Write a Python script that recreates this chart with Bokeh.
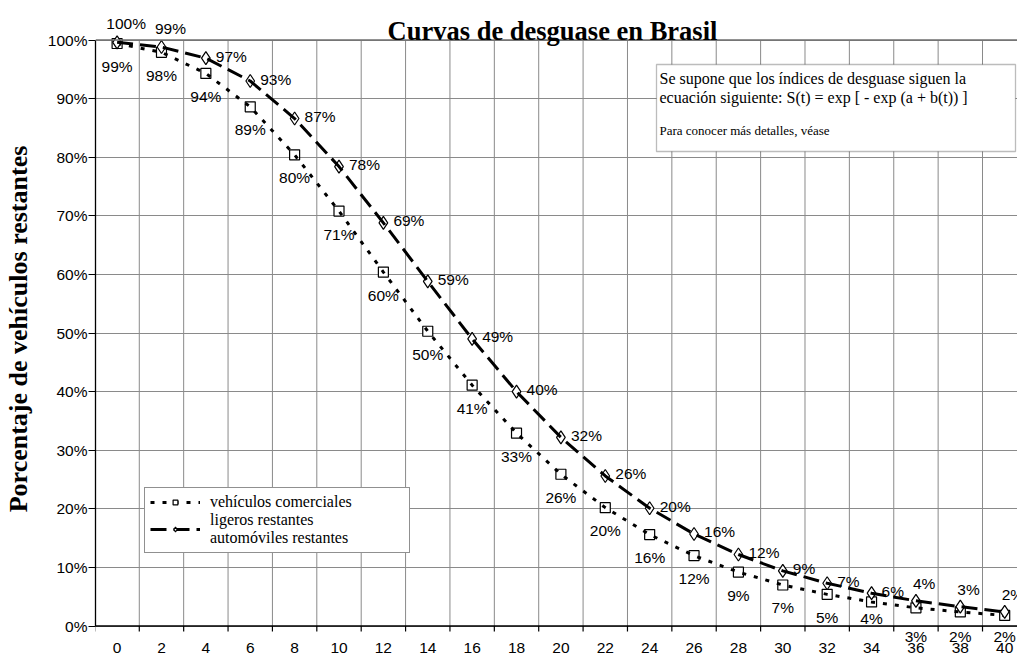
from bokeh.plotting import figure
from bokeh.models import (Range1d, FixedTicker, LabelSet, Label, ColumnDataSource,
                          Legend, LegendItem, BoxAnnotation, PrintfTickFormatter, Span)
from bokeh.core.properties import value
from bokeh.embed import file_html
from bokeh.resources import INLINE

# ---------------- data ----------------
years = list(range(0, 41, 2))
comerciales = [99.4, 97.9, 94.3, 88.6, 80.4, 70.8, 60.4, 50.3, 41.1, 32.9, 25.9,
               20.2, 15.6, 12.0, 9.2, 7.0, 5.4, 4.1, 3.1, 2.4, 1.8]
automoviles = [99.6, 98.8, 96.9, 93.0, 86.6, 78.4, 68.8, 58.8, 49.0, 40.0, 32.2,
               25.6, 20.1, 15.7, 12.2, 9.4, 7.3, 5.6, 4.3, 3.3, 2.4]
y_ticks = list(range(0, 101, 10))
x_tick_labels = [str(y) for y in years]
title_text = "Curvas de desguase en Brasil"
y_label = "Porcentaje de vehículos restantes"
legend_labels = ["vehículos comerciales", "ligeros restantes\nautomóviles restantes"]
note_lines = ["Se supone que los índices de desguase siguen la",
              "ecuación siguiente: S(t) = exp [ - exp (a + b(t)) ]"]
note_small = "Para conocer más detalles, véase"

# ---------------- geometry (pixel scale of the plot area) ----------------
W, H = 1017, 657
PX_X = 22.19   # px per year
PX_Y = 5.86    # px per percent
X0_PX, Y0_PX = 116.6, 625.5   # where (0, 0%) sits
LEFT = 95
x_start = (LEFT - X0_PX) / PX_X
x_end = (W - X0_PX) / PX_X
y_end = Y0_PX / PX_Y
y_start = -(H - Y0_PX) / PX_Y

p = figure(width=W, height=H, output_backend="svg", toolbar_location=None,
           x_range=Range1d(x_start, x_end), y_range=Range1d(y_start, y_end),
           x_axis_location=None,
           min_border_left=LEFT, min_border_right=0, min_border_top=0, min_border_bottom=0)
p.outline_line_color = None
p.background_fill_color = "white"
p.border_fill_color = "white"

grid_color = "#8a8a8a"
odd = [y + 1 for y in years if y + 1 < x_end]

# vertical grid lines (between categories), limited to 0..100 %
p.segment(x0=odd, y0=[0] * len(odd), x1=odd, y1=[100] * len(odd),
          line_color=grid_color, line_width=1)
p.xgrid.visible = False
p.ygrid.ticker = FixedTicker(ticks=y_ticks)
p.ygrid.grid_line_color = grid_color
p.ygrid.grid_line_width = 1
p.add_layout(Span(location=100, dimension="width", line_color="#6e6e6e", line_width=1.6))

# x axis drawn by hand (line, ticks between categories, labels)
p.add_layout(Span(location=0, dimension="width", line_color="black", line_width=1.3))
tick_x = [-1] + odd
p.segment(x0=tick_x, y0=[0] * len(tick_x), x1=tick_x, y1=[-5.5 / PX_Y] * len(tick_x),
          line_color="black", line_width=1.2)
p.add_layout(LabelSet(x="x", y="y", text="t",
                      source=ColumnDataSource(dict(x=years, y=[-21.5 / PX_Y] * len(years),
                                                   t=x_tick_labels)),
                      text_align="center", text_baseline="middle",
                      text_font=value("Liberation Sans"), text_font_size="15.5px",
                      text_color="black"))

# y axis
yax = p.yaxis[0]
yax.bounds = (0, 100)
yax.ticker = FixedTicker(ticks=y_ticks)
yax.formatter = PrintfTickFormatter(format="%d%%")
yax.axis_line_color = "black"
yax.axis_line_width = 1.3
yax.major_label_text_font = "Liberation Sans"
yax.major_label_text_font_size = "15.5px"
yax.major_label_text_color = "black"
yax.major_tick_line_color = "black"
yax.major_tick_out = 7
yax.major_tick_in = 0
yax.minor_tick_line_color = None
yax.major_label_standoff = 1
yax.axis_label = y_label
yax.axis_label_text_font = "Liberation Serif"
yax.axis_label_text_font_style = "bold"
yax.axis_label_text_font_size = "26px"
yax.axis_label_text_color = "black"
yax.axis_label_standoff = 12

# ---------------- series ----------------
src = ColumnDataSource(dict(x=years, c=comerciales, a=automoviles))
c_sc = p.scatter("x", "c", source=src, marker="square", size=10, fill_color="white",
                 line_color="black", line_width=1.2)
c_ln = p.line("x", "c", source=src, line_color="black", line_width=3, line_dash="4 8")
a_sc = p.scatter("x", "a", source=src, marker="diamond", size=13,
                 fill_color="white", line_color="black", line_width=1.2)
a_ln = p.line("x", "a", source=src, line_color="black", line_width=3, line_dash="16 7")

# ---------------- data labels ----------------
c_lab_y = [(-10.5 / PX_Y if v < 3.5 else max(v - 23 / PX_Y, 1.3)) for v in comerciales]
c_txt = [f"{round(v)}%" for v in comerciales]
p.add_layout(LabelSet(x="x", y="y", text="t",
                      source=ColumnDataSource(dict(x=years, y=c_lab_y, t=c_txt)),
                      text_align="center", text_baseline="middle",
                      text_font=value("Liberation Sans"), text_font_size="15.5px",
                      text_color="black"))

a_txt = [f"{round(v)}%" for v in automoviles]
n = len(years)
top_idx = [0, 1]
end_idx = [i for i in range(n) if i >= n - 3]
mid_idx = [i for i in range(n) if i not in top_idx and i not in end_idx]


def sub(idx):
    return ColumnDataSource(dict(x=[years[i] for i in idx], y=[automoviles[i] for i in idx],
                                 t=[a_txt[i] for i in idx]))


common = dict(text="t", text_baseline="middle", text_font=value("Liberation Sans"),
              text_font_size="15.5px", text_color="black")
p.add_layout(LabelSet(x="x", y="y", source=sub(top_idx), text_align="center",
                      x_offset=9, y_offset=19, **common))
p.add_layout(LabelSet(x="x", y="y", source=sub(mid_idx), text_align="left",
                      x_offset=10, y_offset=2, **common))
p.add_layout(LabelSet(x="x", y="y", source=sub(end_idx), text_align="left",
                      x_offset=-3, y_offset=17, **common))

# ---------------- title ----------------
p.add_layout(Label(x=(552 - X0_PX) / PX_X, y=(Y0_PX - 30) / PX_Y, text=title_text,
                   text_align="center", text_baseline="alphabetic",
                   text_font="Liberation Serif", text_font_style="bold",
                   text_font_size="26.5px", text_color="black"))

# ---------------- note box ----------------
box_l = (656 - X0_PX) / PX_X
box_r = (1015 - X0_PX) / PX_X
box_t = (Y0_PX - 64) / PX_Y
box_b = (Y0_PX - 151) / PX_Y
p.add_layout(BoxAnnotation(left=box_l, right=box_r, top=box_t, bottom=box_b,
                           fill_color="white", fill_alpha=1, line_color="#222222",
                           line_width=1.3))
for i, s in enumerate(note_lines):
    p.add_layout(Label(x=box_l, y=(Y0_PX - 78 - 19 * i) / PX_Y, x_offset=3, text=s,
                       text_baseline="middle", text_font="Liberation Serif",
                       text_font_size="16px", text_color="black"))
p.add_layout(Label(x=box_l, y=(Y0_PX - 130) / PX_Y, x_offset=3, text=note_small,
                   text_baseline="middle", text_font="Liberation Serif",
                   text_font_size="13px", text_color="black"))

# ---------------- legend ----------------
legend = Legend(items=[LegendItem(label=legend_labels[0], renderers=[c_ln, c_sc]),
                       LegendItem(label=legend_labels[1], renderers=[a_ln, a_sc])],
                location=(144 - LEFT, H - 553))
legend.border_line_color = "#222222"
legend.border_line_width = 1.3
legend.background_fill_color = "white"
legend.background_fill_alpha = 1
legend.label_text_font = "Liberation Serif"
legend.label_text_font_size = "16px"
legend.label_text_color = "black"
legend.glyph_width = 50
legend.glyph_height = 12
legend.spacing = 0
legend.padding = 5
legend.margin = 0
legend.label_standoff = 10
legend.label_text_line_height = 0.78
legend.label_height = 10
legend.label_width = 194
p.add_layout(legend)

open("out.html", "w").write(file_html(p, INLINE))
